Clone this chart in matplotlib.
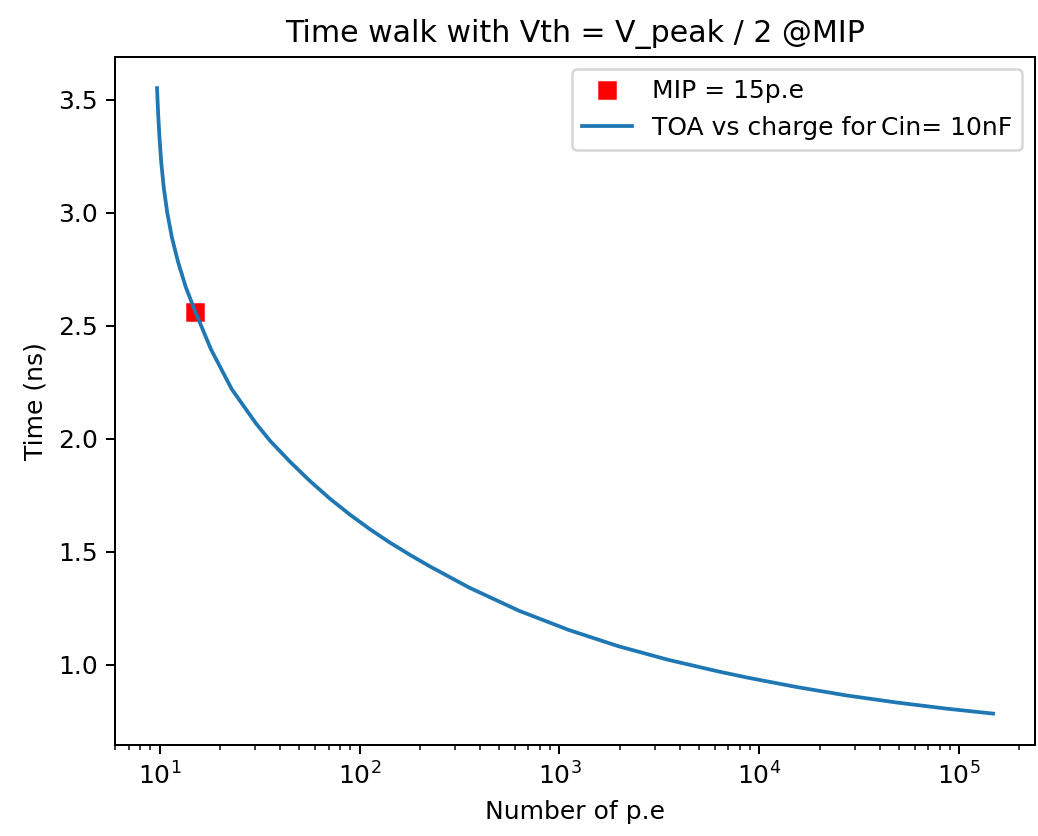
import matplotlib
matplotlib.use("Agg")
import matplotlib.pyplot as plt

# curve: number of p.e -> time of arrival (ns)
n_pe = [9.707, 9.830, 9.989, 10.196, 10.493, 10.922, 11.527, 12.389, 13.531,
        15.136, 18.073, 22.94, 30.36, 35.8, 45.0, 56.6, 71.2, 89.5, 112.5,
        141.5, 177.9, 223.8, 354, 627, 1112, 1972, 3494, 6194, 8734, 15480,
        27440, 48640, 86180, 147600]
toa_ns = [3.551, 3.441, 3.330, 3.220, 3.110, 3.000, 2.890, 2.780, 2.670,
          2.559, 2.396, 2.220, 2.068, 1.990, 1.898, 1.813, 1.735, 1.665, 1.601,
          1.542, 1.488, 1.437, 1.342, 1.240, 1.155, 1.083, 1.023, 0.972, 0.944,
          0.902, 0.865, 0.834, 0.807, 0.785]

mip_pe = [15]
mip_toa = [2.56]

dpi = 180
fig = plt.figure(figsize=(1038 / dpi, 836 / dpi), dpi=dpi)
ax = fig.add_axes([0.111, 0.109, 0.886, 0.823])

ax.plot(mip_pe, mip_toa, 's', color='red', markersize=6.7, label='MIP = 15p.e')
ax.plot(n_pe, toa_ns, label='TOA vs charge for\u2009Cin= 10nF')
ax.set_xscale('log')
ax.set_xlabel('Number of p.e')
ax.set_ylabel('Time (ns)')
ax.set_title('Time walk with Vth = V_peak / 2 @MIP')
ax.legend(loc='upper right')

fig.savefig('out.png', dpi=dpi)
